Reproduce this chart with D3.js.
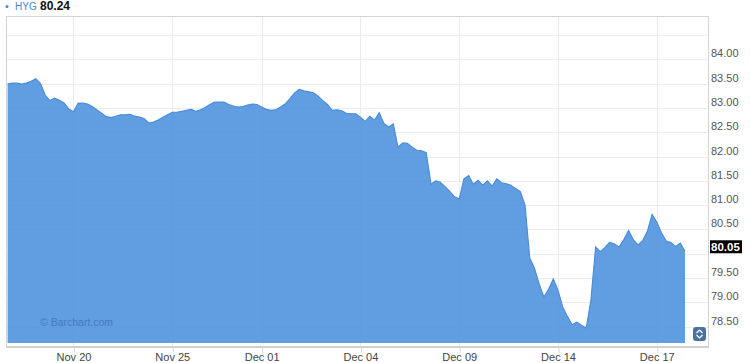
<!DOCTYPE html>
<html><head><meta charset="utf-8">
<script src="https://cdn.jsdelivr.net/npm/d3@7"></script>
<style>
body{margin:0;background:#fff;}
svg{display:block;font-family:"Liberation Sans",Arial,sans-serif;}
</style>
</head><body>
<svg id="c" width="750" height="363"></svg>
<script>
const symbol = "HYG";
const headerPrice = "80.24";
const lastPrice = 80.05;
const dayLabels = ["Nov 20","Nov 25","Dec 01","Dec 04","Dec 09","Dec 14","Dec 17"];
const dayStartIndex = [14,35,54,75,96,117,138];
const yTickValues = [78.5,79,79.5,80,80.5,81,81.5,82,82.5,83,83.5,84];
const yGridValues = [78.5,79,79.5,80,80.5,81,81.5,82,82.5,83,83.5,84,84.5];
const prices = [
  83.49,83.51,83.51,83.49,83.51,83.55,83.60,83.50,83.26,83.15,83.20,83.16,83.10,82.98,
  82.92,83.10,83.10,83.08,83.03,82.96,82.89,
  82.82,82.80,82.83,82.86,82.86,82.87,82.83,
  82.81,82.78,82.69,82.71,82.75,82.81,82.86,
  82.91,82.91,82.93,82.95,82.97,82.93,82.96,
  83.01,83.07,83.12,83.12,83.12,
  83.07,83.04,83.02,83.03,83.06,83.08,83.07,
  83.02,82.97,82.95,82.96,83.02,83.08,83.19,
  83.31,83.38,83.35,83.33,83.31,83.24,83.15,
  83.07,82.95,82.96,82.94,82.89,82.88,82.88,
  82.81,82.72,82.83,82.75,82.90,82.68,82.61,
  82.67,82.19,82.28,82.27,82.19,82.13,82.12,
  82.08,81.43,81.50,81.47,81.38,81.28,81.17,
  81.13,81.54,81.61,81.43,81.51,81.41,81.50,
  81.39,81.54,81.46,81.44,81.41,81.34,81.28,
  81.00,79.91,79.70,79.38,79.11,79.27,79.48,
  79.25,78.91,78.71,78.54,78.59,78.53,78.47,
  79.05,80.14,80.04,80.13,80.24,80.20,80.14,
  80.29,80.48,80.29,80.18,80.27,80.46,80.81,
  80.65,80.43,80.26,80.23,80.15,80.22,80.05
];

const L = 6, R = 708, T = 16.5, B = 346.5, areaBottom = 343;
const svg = d3.select("#c");

const x = d3.scaleLinear().domain([0, prices.length - 1]).range([7.6, 685]);
const y = d3.scaleLinear().domain([78.5, 84]).range([326.6, 59.3]);

svg.append("defs").append("clipPath").attr("id","clip")
  .append("rect").attr("x",L).attr("y",T).attr("width",R-L).attr("height",B-T);

// grid
const g = svg.append("g");
g.selectAll("line.h").data(yGridValues).join("line")
  .attr("x1",L).attr("x2",R).attr("y1",d=>Math.round(y(d))+0.5).attr("y2",d=>Math.round(y(d))+0.5)
  .attr("stroke","#ececec").attr("stroke-width",1);
g.selectAll("line.v").data(dayStartIndex).join("line")
  .attr("x1",d=>Math.round(x(d))+0.5).attr("x2",d=>Math.round(x(d))+0.5)
  .attr("y1",T).attr("y2",B).attr("stroke","#ececec").attr("stroke-width",1);

// area
const area = d3.area().x((d,i)=>x(i)).y0(areaBottom).y1(d=>y(d));
const line = d3.line().x((d,i)=>x(i)).y(d=>y(d));
const pg = svg.append("g").attr("clip-path","url(#clip)");
pg.append("path").datum(prices).attr("d",area).attr("fill","#4a8fdc").attr("fill-opacity",0.87);
pg.append("path").datum(prices).attr("d",line).attr("fill","none").attr("stroke","#4a8bd9").attr("stroke-width",1.1);

// watermark
svg.append("text").attr("x",40).attr("y",326).attr("font-size",10.5)
  .attr("fill","#3a6eae").attr("fill-opacity",0.75).text("\u00A9 Barchart.com");

// plot border
svg.append("path")
  .attr("d",`M${L+0.5},${B} L${L+0.5},${T} L${R+0.5},${T} L${R+0.5},${B}`)
  .attr("fill","none").attr("stroke","#d4d4d4").attr("stroke-width",1);
svg.append("line").attr("x1",L).attr("x2",R+1).attr("y1",B+0.5).attr("y2",B+0.5)
  .attr("stroke","#d0d0d0").attr("stroke-width",2);

// x axis
const xAxis = d3.axisBottom(x).tickValues(dayStartIndex)
  .tickFormat((d,i)=>dayLabels[i]).tickSize(6).tickSizeOuter(0);
const xg = svg.append("g").attr("transform",`translate(0,${B})`).call(xAxis);
xg.select(".domain").remove();
xg.selectAll(".tick line").attr("stroke","#d8d8d8").attr("transform","translate(0.5,0)");
xg.selectAll(".tick text").attr("y",6.6).attr("font-size",11)
  .attr("font-family","'Liberation Sans',Arial,sans-serif").attr("fill","#444");

// y axis
const yAxis = d3.axisRight(y).tickValues(yTickValues).tickFormat(d3.format(".2f")).tickSize(0).tickPadding(3);
const yg = svg.append("g").attr("transform",`translate(${R},0)`).call(yAxis);
yg.select(".domain").remove();
yg.selectAll(".tick text").attr("y",-6).attr("font-size",11)
  .attr("font-family","'Liberation Sans',Arial,sans-serif").attr("fill","#555");

// last price label
const ly = y(lastPrice) - 4.5;
svg.append("rect").attr("x",710).attr("y",ly-6.5).attr("width",32).attr("height",13).attr("fill","#000");
svg.append("text").attr("x",711).attr("y",ly).attr("dy","0.35em").attr("font-size",11.5)
  .attr("font-weight","bold").attr("fill","#fff").text(d3.format(".2f")(lastPrice));

// scroll icon
svg.append("rect").attr("x",693).attr("y",327).attr("width",13).attr("height",14).attr("rx",3).attr("fill","#4a72a0");
svg.append("path").attr("d","M696.5,333 L699.5,330 L702.5,333 M696.5,335 L699.5,338 L702.5,335")
  .attr("fill","none").attr("stroke","#fff").attr("stroke-width",1.2);

// header
svg.append("circle").attr("cx",7).attr("cy",6.5).attr("r",1.5).attr("fill","#4a86d4");
svg.append("text").attr("x",15).attr("y",10).attr("font-size",10).attr("fill","#4a86d4").text(symbol);
svg.append("text").attr("x",40).attr("y",10).attr("font-size",12).attr("font-weight","bold").attr("fill","#111").text(headerPrice);
</script>
</body></html>
